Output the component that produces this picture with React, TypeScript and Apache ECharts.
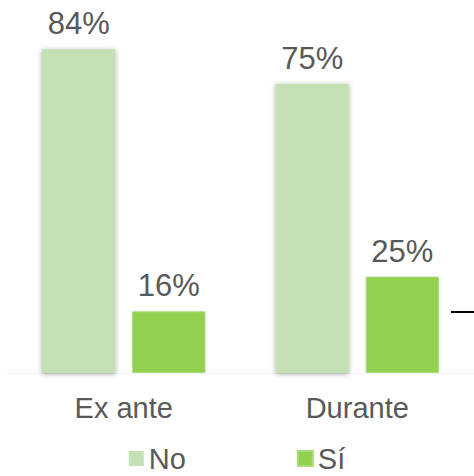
import React, { useEffect, useRef } from "react";
import * as echarts from "echarts";

const categories = ["Ex ante", "Durante"];
const noValues = [84, 75];
const siValues = [16, 25];
const seriesNames = ["No", "Sí"];

export default function App() {
  const ref = useRef<HTMLDivElement>(null);
  useEffect(() => {
    if (!ref.current) return;
    const chart = echarts.init(ref.current, null, { renderer: "svg" });
    const font = "Arial, 'Liberation Sans', sans-serif";
    const labelStyle = {
      show: true,
      position: "top" as const,
      distance: 10,
      fontSize: 31,
      color: "#595959",
      fontFamily: font,
      formatter: "{c}%",
    };
    chart.setOption({
      animation: false,
      grid: { left: 7, right: 0, top: 26, bottom: 103, containLabel: false },
      legend: {
        data: seriesNames,
        top: 439,
        left: "center",
        itemWidth: 15,
        itemHeight: 15,
        itemGap: 111,
        icon: "rect",
        textStyle: { fontSize: 29, color: "#595959", fontFamily: font },
      },
      xAxis: {
        type: "category",
        data: categories,
        axisTick: { show: false },
        axisLine: { lineStyle: { color: "#F2F2F2", width: 1 } },
        axisLabel: { fontSize: 29, color: "#595959", fontFamily: font, margin: 20 },
      },
      yAxis: { type: "value", min: 0, max: 90, show: false, splitLine: { show: false } },
      series: [
        {
          name: seriesNames[0],
          type: "bar",
          data: noValues,
          barGap: "23%",
          barCategoryGap: "30%",
          itemStyle: {
            color: "#C5E0B4",
            shadowBlur: 5,
            shadowColor: "rgba(0,0,0,0.35)",
            shadowOffsetY: 1,
          },
          label: labelStyle,
        },
        {
          name: seriesNames[1],
          type: "bar",
          data: siValues,
          itemStyle: { color: "#92D050", borderColor: "#A9DC79", borderWidth: 1 },
          label: labelStyle,
        },
      ],
      graphic: [
        {
          type: "line",
          shape: { x1: 451, y1: 312, x2: 474, y2: 312 },
          style: { stroke: "#000", lineWidth: 2 },
        },
      ],
    });
    return () => chart.dispose();
  }, []);
  return <div ref={ref} style={{ width: 474, height: 476, position: "absolute", left: 0, top: 0 }} />;
}
